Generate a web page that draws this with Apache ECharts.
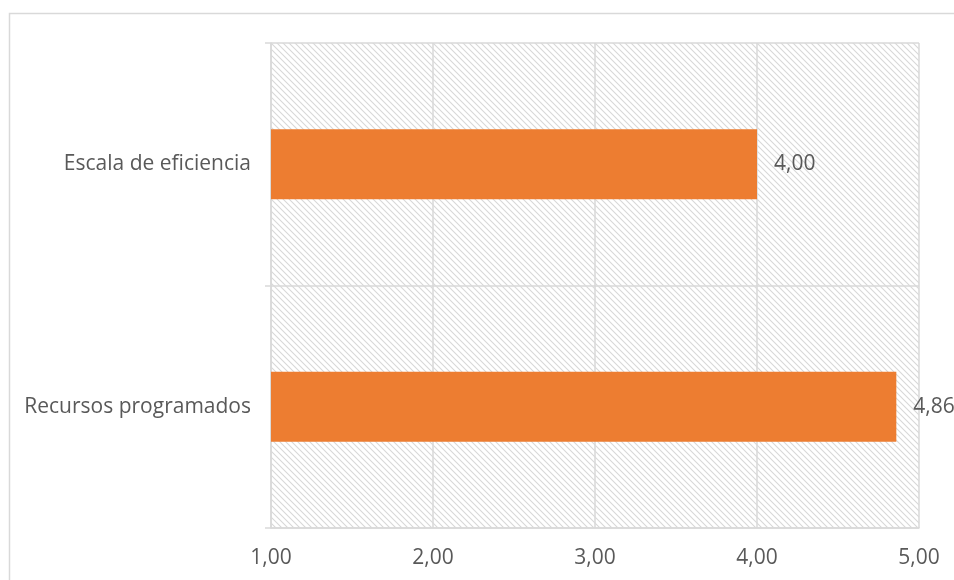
<!DOCTYPE html>
<html>
<head>
<meta charset="utf-8">
<script src="https://cdn.jsdelivr.net/npm/echarts@6/dist/echarts.min.js"></script>
<style>
  html, body { margin: 0; padding: 0; background: #fff; }
  #chart { width: 954px; height: 580px; }
</style>
</head>
<body>
<div id="chart"></div>
<script>
// Categories (top to bottom) and their scores
const categories = ['Escala de eficiencia', 'Recursos programados'];
const scores = [4.00, 4.86];
// Value axis range and step
const axisMin = 1;
const axisMax = 5;
const axisStep = 1;

// Comma as decimal separator, two decimals
function fmt(v) {
  return Number(v).toFixed(2).replace('.', ',');
}

// Diagonal hatch tile for the plot background
function hatchTile() {
  const c = document.createElement('canvas');
  const s = 6;
  c.width = s; c.height = s;
  const ctx = c.getContext('2d');
  ctx.fillStyle = '#ffffff';
  ctx.fillRect(0, 0, s, s);
  ctx.strokeStyle = '#d8d8d8';
  ctx.lineWidth = 1.1;
  ctx.beginPath();
  ctx.moveTo(-1, -1); ctx.lineTo(s + 1, s + 1);
  ctx.moveTo(-1, s - 1); ctx.lineTo(1, s + 1);
  ctx.moveTo(s - 1, -1); ctx.lineTo(s + 1, 1);
  ctx.stroke();
  return c;
}

const textColor = '#595959';
const gridColor = '#d9d9d9';
const font = '"Open Sans", Lato, sans-serif';

const chart = echarts.init(document.getElementById('chart'), null, { renderer: 'canvas' });

chart.setOption({
  animation: false,
  backgroundColor: '#ffffff',
  graphic: [{
    type: 'rect',
    shape: { x: 9.5, y: 13.5, width: 960, height: 600 },
    style: { fill: 'none', stroke: gridColor, lineWidth: 1.5 },
    silent: true,
    z: -1
  }],
  grid: {
    left: 271,
    right: 35,
    top: 43,
    bottom: 52,
    show: true,
    borderWidth: 0,
    backgroundColor: { image: hatchTile(), repeat: 'repeat' }
  },
  xAxis: {
    type: 'value',
    min: axisMin,
    max: axisMax,
    interval: axisStep,
    axisLine: { show: true, lineStyle: { color: gridColor, width: 1.5 } },
    axisTick: { show: false },
    axisLabel: {
      color: textColor,
      fontFamily: font,
      fontSize: 21,
      margin: 20,
      formatter: fmt
    },
    splitLine: { show: true, lineStyle: { color: gridColor, width: 1.5 } }
  },
  yAxis: {
    type: 'category',
    data: categories,
    inverse: true,
    axisLine: { show: true, lineStyle: { color: gridColor, width: 1.5 } },
    axisTick: { show: true, length: 6, lineStyle: { color: gridColor, width: 1.5 } },
    axisLabel: {
      color: textColor,
      fontFamily: font,
      fontSize: 21,
      margin: 20
    },
    splitLine: { show: true, lineStyle: { color: gridColor, width: 1.5 } }
  },
  series: [{
    type: 'bar',
    data: scores,
    barWidth: 70,
    itemStyle: { color: '#ED7D31' },
    label: {
      show: true,
      position: 'right',
      distance: 17,
      color: textColor,
      fontFamily: font,
      fontSize: 21,
      formatter: p => fmt(p.value)
    }
  }]
});
</script>
</body>
</html>
